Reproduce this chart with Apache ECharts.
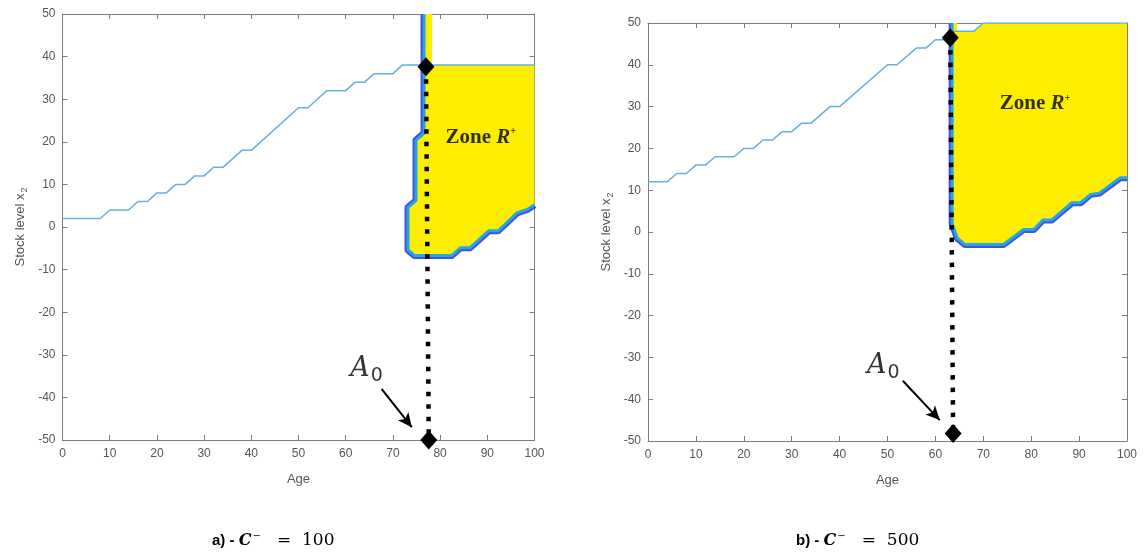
<!DOCTYPE html>
<html>
<head>
<meta charset="utf-8">
<script src="https://cdn.jsdelivr.net/npm/echarts@6/dist/echarts.min.js"></script>
<style>
html,body{margin:0;padding:0;background:#fff;}
#chart{width:1145px;height:554px;}
</style>
</head>
<body>
<div id="chart"></div>
<script>
// ---------- data ----------
// Panel a) C- = 100 : trajectory of stock level vs age
const ageA = [0, 8, 10, 14, 16, 18, 20, 22, 24, 26, 28, 30, 32, 34, 38, 40, 50, 52, 56, 60, 62, 64, 66, 70, 72, 100];
const stockA = [2, 2, 4, 4, 6, 6, 8, 8, 10, 10, 12, 12, 14, 14, 18, 18, 28, 28, 32, 32, 34, 34, 36, 36, 38, 38];
// Panel a) zone R+ contour edge (left / bottom boundary)
const edgeAgeA = [76.6, 76.6, 74.9, 74.9, 73.2, 73.2, 74.6, 82.4, 84.3, 86.3, 90.3, 92.3, 96.3, 98.6, 100];
const edgeStockA = [50, 22, 20.4, 6.2, 4.6, -5.4, -6.7, -6.7, -4.9, -4.9, -0.9, -0.9, 3.3, 4.2, 5.2];
// Panel a) zone R+ closing boundary (right / top)
const closeAgeA = [100, 78.3, 78.3];
const closeStockA = [38, 38, 50];
// Panel a) optimal age A0 marker
const a0TopA = [77.0, 37.6];
const a0BotA = [77.6, -50];

// Panel b) C- = 500
const ageB = [0, 4, 6, 8, 10, 12, 14, 18, 20, 22, 24, 26, 28, 30, 32, 34, 38, 40, 50, 52, 56, 58, 60, 62, 64, 68, 70, 100];
const stockB = [12, 12, 14, 14, 16, 16, 18, 18, 20, 20, 22, 22, 24, 24, 26, 26, 30, 30, 40, 40, 44, 44, 46, 46, 48, 48, 50, 50];
const edgeAgeB = [63.5, 63.5, 64.6, 66.2, 74.2, 78.4, 80.5, 82.5, 84.3, 88.5, 90.3, 92.4, 94.2, 98.6, 100];
const edgeStockB = [50, 2, -1.5, -3, -3, 0.6, 0.6, 2.9, 2.9, 7, 7, 9, 9.3, 13, 13];
const closeAgeB = [100, 70, 68, 64.5, 64.5];
const closeStockB = [50, 50, 48, 48, 50];
const a0TopB = [63.1, 46.5];
const a0BotB = [63.7, -48.2];

// annotation anchors (data coordinates)
const zoneLabelA = [88.6, 21.1];
const zoneLabelB = [80.8, 30.7];
const a0LabelA = [64.4, -33.6];
const a0LabelB = [49.1, -32.4];
const arrowA = [[67.6, -38.0], [74.0, -47.0]];
const arrowB = [[53.2, -35.6], [60.9, -45.0]];

// axis ticks
const xTicks = {min: 0, max: 100, interval: 10};
const yTicks = {min: -50, max: 50, interval: 10};

// ---------- helpers ----------
const zip = (xs, ys) => xs.map((x, i) => [x, ys[i]]);
const YELLOW = '#FDEE00';
const EDGE_BLUE = '#4152e4';
const EDGE_CYAN = '#25a8df';
const LINE_BLUE = '#62b1e3';
const AXIS = '#7d7d7d';
const LABEL = '#555555';

function xAx(grid, pos, labels) {
  return {
    type: 'value', gridIndex: grid, position: pos,
    min: xTicks.min, max: xTicks.max, interval: xTicks.interval,
    axisLine: {show: true, onZero: false, lineStyle: {color: AXIS, width: 1}},
    axisTick: {show: true, inside: true, length: 5, lineStyle: {color: AXIS}},
    axisLabel: {show: labels, color: LABEL, fontSize: 12, fontFamily: 'Liberation Sans, Arial', margin: 8},
    splitLine: {show: false},
    name: labels ? 'Age' : '', nameLocation: 'middle', nameGap: 33,
    nameTextStyle: {color: LABEL, fontSize: 13, fontFamily: 'Liberation Sans, Arial'}
  };
}
function yAx(grid, pos, labels) {
  return {
    type: 'value', gridIndex: grid, position: pos,
    min: yTicks.min, max: yTicks.max, interval: yTicks.interval,
    axisLine: {show: true, onZero: false, lineStyle: {color: AXIS, width: 1}},
    axisTick: {show: true, inside: true, length: 5, lineStyle: {color: AXIS}},
    axisLabel: {show: labels, color: LABEL, fontSize: 12, fontFamily: 'Liberation Sans, Arial', margin: 7},
    splitLine: {show: false},
    name: labels ? 'Stock level x{s|2}' : '', nameLocation: 'middle', nameGap: 33,
    nameTextStyle: {color: LABEL, fontSize: 13, fontFamily: 'Liberation Sans, Arial',
      rich: {s: {fontSize: 9, color: LABEL, fontFamily: 'Liberation Sans, Arial', padding: [9, 0, 0, 1]}}}
  };
}

function panelSeries(xi, yi, age, stock, edgeA, edgeS, closeA, closeS, top, bot, zoneLbl, a0Lbl, arrow) {
  const edge = zip(edgeA, edgeS);
  const poly = edge.concat(zip(closeA, closeS));
  return [
    // outer blue contour edge
    {type: 'line', xAxisIndex: xi, yAxisIndex: yi, data: edge, showSymbol: false, silent: true,
     lineStyle: {color: EDGE_BLUE, width: 7, join: 'round'}, z: 2, animation: false},
    // yellow fill
    {type: 'custom', xAxisIndex: xi, yAxisIndex: yi, data: [[0, 0]], z: 3, silent: true, animation: false,
     renderItem: function (params, api) {
       return {type: 'polygon', shape: {points: poly.map(p => api.coord(p))},
               style: {fill: YELLOW, stroke: null}};
     }},
    // inner cyan contour edge
    {type: 'line', xAxisIndex: xi, yAxisIndex: yi, data: edge, showSymbol: false, silent: true,
     lineStyle: {color: EDGE_CYAN, width: 3, join: 'round'}, z: 4, animation: false},
    // stock trajectory
    {type: 'line', xAxisIndex: xi, yAxisIndex: yi, data: zip(age, stock), showSymbol: false, silent: true,
     lineStyle: {color: LINE_BLUE, width: 1.5}, z: 5, animation: false},
    // dotted A0 line
    {type: 'line', xAxisIndex: xi, yAxisIndex: yi, data: [top, bot], showSymbol: false, silent: true,
     lineStyle: {color: '#000', width: 4.5, type: [4.5, 8], cap: 'butt'}, z: 6, animation: false,
     markLine: {silent: true, symbol: ['none', 'arrow'], symbolSize: [10, 14], animation: false,
       lineStyle: {color: '#000', width: 2, type: 'solid'}, label: {show: false},
       data: [[{coord: arrow[0]}, {coord: arrow[1]}]]}},
    // diamonds
    {type: 'scatter', xAxisIndex: xi, yAxisIndex: yi, data: [top, bot], symbol: 'diamond', symbolSize: [17, 19],
     itemStyle: {color: '#000', opacity: 1}, z: 7, silent: true, animation: false},
    // labels
    {type: 'scatter', xAxisIndex: xi, yAxisIndex: yi, data: [zoneLbl], symbolSize: 0, z: 8, silent: true, animation: false,
     label: {show: true, position: 'inside', formatter: '{z|Zone }{r|R}{p|+}',
       rich: {
         z: {fontFamily: 'Liberation Serif, serif', fontWeight: 'bold', fontSize: 21, color: '#000'},
         r: {fontFamily: 'Liberation Serif, serif', fontWeight: 'bold', fontStyle: 'italic', fontSize: 21, color: '#000'},
         p: {fontFamily: 'Liberation Serif, serif', fontWeight: 'bold', fontSize: 10, color: '#000', padding: [0, 0, 11, 0]}
       }}},
    {type: 'scatter', xAxisIndex: xi, yAxisIndex: yi, data: [a0Lbl], symbolSize: 0, z: 8, silent: true, animation: false,
     label: {show: true, position: 'inside', formatter: '{a|A}{s|0}',
       rich: {
         a: {fontFamily: 'DejaVu Serif, serif', fontStyle: 'italic', fontSize: 27, color: '#000', verticalAlign: 'top', lineHeight: 30},
         s: {fontFamily: 'DejaVu Sans, sans-serif', fontSize: 19, color: '#000', verticalAlign: 'bottom', lineHeight: 20, padding: [16, 0, 0, 1]}
       }}}
  ];
}

const captionRich = {
  p: {fontFamily: 'Liberation Sans Narrow, Liberation Sans, Arial', fontWeight: 'bold', fontSize: 15, color: '#000'},
  c: {fontFamily: 'DejaVu Serif, serif', fontWeight: 'bold', fontStyle: 'italic', fontSize: 16, color: '#000'},
  m: {fontFamily: 'DejaVu Serif, serif', fontWeight: 'normal', fontSize: 10, color: '#000', padding: [0, 0, 9, 1]},
  e: {fontFamily: 'DejaVu Serif, serif', fontWeight: 'normal', fontSize: 17, color: '#000'}
};

const option = {
  backgroundColor: '#ffffff',
  animation: false,
  title: [
    {text: '{p|a) - }{c|C}{m|\u2212}{e|   =  100}', left: 207, top: 526, textStyle: {fontWeight: 'normal', rich: captionRich}},
    {text: '{p|b) - }{c|C}{m|\u2212}{e|   =  500}', left: 791, top: 526, textStyle: {fontWeight: 'normal', rich: captionRich}}
  ],
  grid: [
    {left: 62.5, top: 14, width: 472, height: 426},
    {left: 648, top: 23, width: 479, height: 418}
  ],
  xAxis: [xAx(0, 'bottom', true), xAx(0, 'top', false), xAx(1, 'bottom', true), xAx(1, 'top', false)],
  yAxis: [yAx(0, 'left', true), yAx(0, 'right', false), yAx(1, 'left', true), yAx(1, 'right', false)],
  series: [].concat(
    panelSeries(0, 0, ageA, stockA, edgeAgeA, edgeStockA, closeAgeA, closeStockA, a0TopA, a0BotA, zoneLabelA, a0LabelA, arrowA),
    panelSeries(2, 2, ageB, stockB, edgeAgeB, edgeStockB, closeAgeB, closeStockB, a0TopB, a0BotB, zoneLabelB, a0LabelB, arrowB)
  )
};

const chart = echarts.init(document.getElementById('chart'), null, {renderer: 'canvas'});
chart.setOption(option);
</script>
</body>
</html>
